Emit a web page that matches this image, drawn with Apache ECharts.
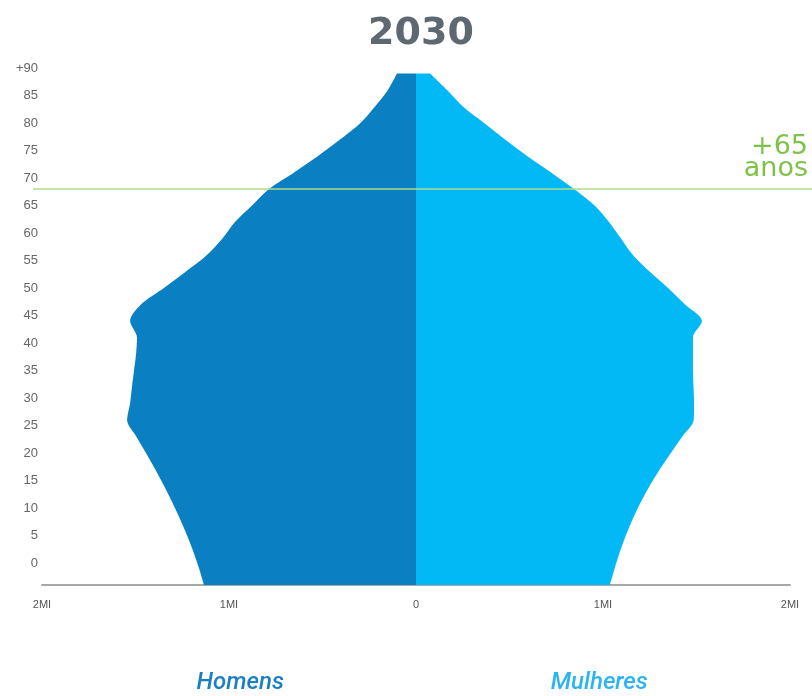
<!DOCTYPE html>
<html>
<head>
<meta charset="utf-8">
<script src="https://cdn.jsdelivr.net/npm/echarts@6/dist/echarts.min.js"></script>
<style>
  html, body { margin: 0; padding: 0; background: #fff; }
  #chart { width: 812px; height: 696px; }
</style>
</head>
<body>
<div id="chart"></div>
<script>
// Age positions of the profile rows (years, on the age-label scale)
const idades = [-4, -1, 2, 5, 8, 11, 14, 17, 20, 23, 26, 29, 32, 35, 38, 41, 44, 47,
  50, 53, 56, 59, 62, 65, 68, 71, 74, 77, 80, 83, 86, 89, 92];

// Population by age, in millions
const homens = [1.134, 1.160, 1.190, 1.224, 1.262, 1.303, 1.347, 1.394, 1.444, 1.496,
  1.545, 1.529, 1.519, 1.508, 1.497, 1.492, 1.529, 1.471, 1.348, 1.230, 1.118, 1.035,
  0.968, 0.877, 0.786, 0.652, 0.524, 0.406, 0.297, 0.219, 0.150, 0.102, null];
const mulheres = [1.037, 1.062, 1.090, 1.122, 1.159, 1.201, 1.249, 1.303, 1.363, 1.424,
  1.485, 1.487, 1.484, 1.481, 1.481, 1.481, 1.529, 1.439, 1.348, 1.249, 1.160, 1.096,
  1.032, 0.955, 0.845, 0.722, 0.594, 0.476, 0.364, 0.251, 0.166, 0.075, null];

// Age tick labels and x ticks
const rotulosIdade = [0, 5, 10, 15, 20, 25, 30, 35, 40, 45, 50, 55, 60, 65, 70, 75, 80, 85, 90];
const xMin = -2, xMax = 2, xPasso = 1;

const titulo = '2030';
const idadeLinha = 68;
const textoLinha = '+65\nanos';
const nomes = ['Homens', 'Mulheres'];

const chart = echarts.init(document.getElementById('chart'));

const option = {
  animation: false,
  backgroundColor: '#ffffff',
  title: {
    text: titulo,
    top: 10,
    left: 416,
    textAlign: 'center',
    textStyle: { fontFamily: 'DejaVu Sans', fontWeight: 'bold', fontSize: 38, color: '#5e6871' }
  },
  grid: { left: 42, right: 22, top: 57, bottom: 111 },
  xAxis: {
    type: 'value',
    min: xMin, max: xMax, interval: xPasso,
    axisLine: { show: true, onZero: false, lineStyle: { color: '#a8a8a8', width: 2 } },
    axisTick: { show: false },
    splitLine: { show: false },
    axisLabel: {
      margin: 14,
      fontFamily: 'Liberation Sans Narrow, Liberation Sans, sans-serif',
      fontSize: 11,
      color: '#555',
      formatter: v => (v === 0 ? '0' : Math.abs(v) + 'MI')
    }
  },
  yAxis: [
    {
      type: 'category',
      data: idades.map(String),
      boundaryGap: false,
      show: false
    },
    {
      type: 'value',
      min: idades[0],
      max: idades[idades.length - 1],
      position: 'left',
      axisLine: { show: false },
      axisTick: { show: false },
      splitLine: { show: false },
      axisLabel: {
        customValues: rotulosIdade,
        margin: 4,
        fontFamily: 'Liberation Sans Narrow, Liberation Sans, sans-serif',
        fontSize: 13,
        color: '#666',
        formatter: v => (v === 90 ? '+90' : String(v))
      }
    }
  ],
  series: [
    {
      name: nomes[0],
      type: 'line',
      yAxisIndex: 0,
      smooth: 0.3,
      showSymbol: false,
      lineStyle: { width: 0 },
      areaStyle: { color: '#0a7fc1', opacity: 1 },
      data: homens.map(v => (v === null ? null : -v))
    },
    {
      name: nomes[1],
      type: 'line',
      yAxisIndex: 0,
      smooth: 0.3,
      showSymbol: false,
      lineStyle: { width: 0 },
      areaStyle: { color: '#02b9f6', opacity: 1 },
      data: mulheres
    }
  ]
};

chart.setOption(option);

// Reference line at the +65 threshold, plus the side labels
const yLinha = chart.convertToPixel({ yAxisIndex: 1 }, idadeLinha);
const xHomens = chart.convertToPixel({ xAxisIndex: 0 }, -0.94);
const xMulheres = chart.convertToPixel({ xAxisIndex: 0 }, 0.98);

chart.setOption({
  graphic: [
    {
      type: 'line',
      shape: { x1: 33, y1: yLinha, x2: 812, y2: yLinha },
      style: { stroke: '#b3db8c', lineWidth: 1.5 },
      z: 10
    },
    {
      type: 'text',
      x: 808, y: yLinha - 9,
      style: {
        text: textoLinha,
        align: 'right', verticalAlign: 'bottom',
        fontFamily: 'DejaVu Sans', fontSize: 27, lineHeight: 22,
        fill: '#7fc24a'
      },
      z: 10
    },
    {
      type: 'text',
      x: xHomens, y: 683,
      style: {
        text: nomes[0],
        align: 'center', verticalAlign: 'middle',
        fontFamily: 'Roboto', fontStyle: 'italic', fontWeight: 500, fontSize: 24,
        fill: '#1b7fc1'
      }
    },
    {
      type: 'text',
      x: xMulheres, y: 683,
      style: {
        text: nomes[1],
        align: 'center', verticalAlign: 'middle',
        fontFamily: 'Roboto', fontStyle: 'italic', fontWeight: 500, fontSize: 24,
        fill: '#2bb4ef'
      }
    }
  ]
});
</script>
</body>
</html>
